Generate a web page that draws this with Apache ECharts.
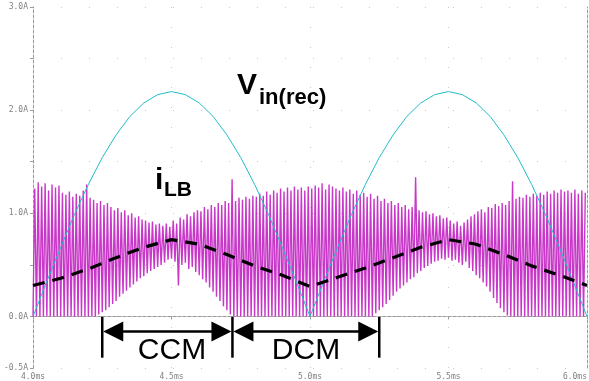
<!DOCTYPE html>
<html>
<head>
<meta charset="utf-8">
<script src="https://cdn.jsdelivr.net/npm/echarts@6/dist/echarts.min.js"></script>
<style>
  html, body { margin: 0; padding: 0; background: #fff; }
  #chart { width: 589px; height: 381px; }
</style>
</head>
<body>
<div id="chart"></div>
<script>
// time axis in ms
const tStart = 4.0
const xTicks = [4.0, 4.5, 5.0, 5.5, 6.0]
const yTicks = [-0.5, 0.0, 1.0, 2.0, 3.0]

// rectified input voltage (scaled), every 0.05 ms
const vinStep = 0.05
const vinRec = [
  0, 0.34, 0.67, 0.99, 1.28, 1.54, 1.76, 1.94, 2.07, 2.15, 2.18,
  2.15, 2.07, 1.94, 1.76, 1.54, 1.28, 0.99, 0.67, 0.34, 0,
  0.34, 0.67, 0.99, 1.28, 1.54, 1.76, 1.94, 2.07, 2.15, 2.18,
  2.15, 2.07, 1.94, 1.76, 1.54, 1.28, 0.99, 0.67, 0.34, 0
]

// average inductor current (dashed), every 0.1 ms
const avgStep = 0.1
const iLBAvg = [
  0.30, 0.37, 0.46, 0.57, 0.67, 0.745, 0.70, 0.60, 0.49, 0.40, 0.29,
  0.38, 0.47, 0.57, 0.67, 0.745, 0.70, 0.60, 0.49, 0.40, 0.30
]

// switching ripple of iLB: valley and peak of each cycle
const swStep = 0.0125
const iLBHigh = [
  1.24, 1.30, 1.26, 1.29, 1.22, 1.28, 1.25, 1.27,
  1.20, 1.18, 1.21, 1.16, 1.19, 1.17, 1.22, 1.28,
  1.15, 1.13, 1.10, 1.12, 1.08, 1.10, 1.06, 1.03,
  1.05, 1.01, 1.03, 0.98, 1.00, 0.96, 0.97, 0.94,
  0.93, 0.91, 0.92, 0.89, 0.90, 0.88, 0.90, 0.87,
  0.93, 0.90, 0.96, 0.94, 0.99, 0.97, 1.01, 1.03,
  1.02, 1.06, 1.04, 1.08, 1.06, 1.10, 1.08, 1.12,
  1.10, 1.33, 1.12, 1.15, 1.13, 1.16, 1.14, 1.17,
  1.16, 1.19, 1.17, 1.21, 1.18, 1.22, 1.20, 1.24,
  1.21, 1.25, 1.22, 1.26, 1.23, 1.25, 1.22, 1.26,
  1.24, 1.27, 1.25, 1.29, 1.23, 1.28, 1.26, 1.24,
  1.22, 1.25, 1.21, 1.23, 1.19, 1.22, 1.18, 1.20,
  1.16, 1.19, 1.14, 1.17, 1.12, 1.14, 1.10, 1.12,
  1.08, 1.10, 1.06, 1.08, 1.04, 1.06, 1.35, 1.03,
  1.01, 1.02, 0.99, 1.00, 0.97, 0.98, 0.95, 0.96,
  0.93, 0.90, 0.92, 0.88, 0.91, 0.94, 0.97, 0.99,
  1.02, 1.04, 1.01, 1.06, 1.05, 1.09, 1.07, 1.10,
  1.08, 1.12, 1.31, 1.14, 1.16, 1.15, 1.18, 1.16,
  1.19, 1.17, 1.20, 1.18, 1.21, 1.19, 1.22, 1.20,
  1.23, 1.21, 1.22, 1.20, 1.23, 1.19, 1.22, 1.20
]
const iLBLow = [
  0, 0, 0, 0, 0, 0, 0, 0,
  0, 0, 0, 0, 0, 0, 0, 0,
  0, 0, 0, 0.02, 0.04, 0.06, 0.09, 0.12,
  0.15, 0.19, 0.22, 0.25, 0.28, 0.31, 0.34, 0.37,
  0.39, 0.42, 0.44, 0.46, 0.48, 0.50, 0.52, 0.55,
  0.56, 0.53, 0.30, 0.50, 0.52, 0.46, 0.48, 0.43,
  0.40, 0.36, 0.33, 0.28, 0.24, 0.19, 0.15, 0.10,
  0.06, 0.02, 0, 0, 0, 0, 0, 0,
  0, 0, 0, 0, 0, 0, 0, 0,
  0, 0, 0, 0, 0, 0, 0, 0,
  0, 0, 0, 0, 0, 0, 0, 0,
  0, 0, 0, 0, 0, 0, 0, 0,
  0, 0, 0, 0.03, 0.06, 0.09, 0.12, 0.16,
  0.20, 0.24, 0.27, 0.30, 0.33, 0.36, 0.38, 0.42,
  0.44, 0.47, 0.49, 0.51, 0.53, 0.54, 0.56, 0.55,
  0.57, 0.54, 0.55, 0.52, 0.50, 0.53, 0.47, 0.44,
  0.40, 0.37, 0.33, 0.29, 0.24, 0.18, 0.13, 0.08,
  0.04, 0.01, 0, 0, 0, 0, 0, 0,
  0, 0, 0, 0, 0, 0, 0, 0,
  0, 0, 0, 0, 0, 0, 0, 0
]

// CCM / DCM markers (data units)
const ccmRange = [4.25, 4.72]
const dcmRange = [4.72, 5.25]
const arrowLevel = -0.145
const barSpan = [0, -0.40]

const vinData = vinRec.map((v, i) => [tStart + i * vinStep, v])
const avgData = iLBAvg.map((v, i) => [tStart + i * avgStep, v])
const rippleData = []
iLBHigh.forEach((h, i) => {
  rippleData.push([tStart + i * swStep, iLBLow[i]])
  rippleData.push([tStart + (i + 0.5) * swStep, h])
})

const chart = echarts.init(document.getElementById('chart'))
const gray = '#9a9a9a'
const labelFont = { color: '#808080', fontSize: 8, fontFamily: 'DejaVu Sans Mono' }

chart.setOption({
  animation: false,
  grid: { left: 33, right: 2, top: 7, bottom: 13, containLabel: false, outerBoundsMode: 'none' },
  xAxis: [
    {
      type: 'value',
      min: 4.0,
      max: 6.0,
      interval: 0.5,
      axisLine: { lineStyle: { color: gray, type: [3, 2] } },
      axisTick: { length: 3, lineStyle: { color: gray } },
      axisLabel: Object.assign({
        margin: 5,
        alignMaxLabel: 'right',
        formatter: v => xTicks.indexOf(+v.toFixed(1)) >= 0 ? v.toFixed(1) + 'ms' : ''
      }, labelFont),
      splitLine: { show: true, lineStyle: { color: '#c8c8c8', type: [1, 19] } }
    },
    {
      type: 'value', position: 'top', min: 4.0, max: 6.0,
      axisLine: { show: true, lineStyle: { color: gray, type: [3, 2] } },
      axisTick: { show: false }, axisLabel: { show: false }, splitLine: { show: false }
    }
  ],
  yAxis: [
    {
      type: 'value',
      min: -0.5,
      max: 3.0,
      interval: 0.5,
      axisLine: { show: true, lineStyle: { color: gray, type: [3, 2] } },
      axisTick: { show: true, length: 3, lineStyle: { color: gray } },
      axisLabel: Object.assign({
        margin: 5,
        formatter: v => yTicks.indexOf(+v.toFixed(1)) >= 0 ? v.toFixed(1) + 'A' : ''
      }, labelFont),
      splitLine: { show: true, lineStyle: { color: '#c8c8c8', type: [1, 27] } }
    },
    {
      type: 'value', position: 'right', min: -0.5, max: 3.0,
      axisLine: { show: true, lineStyle: { color: gray, type: [3, 2] } },
      axisTick: { show: false }, axisLabel: { show: false }, splitLine: { show: false }
    }
  ],
  series: [
    {
      name: 'iLB',
      type: 'line',
      data: rippleData,
      showSymbol: false,
      lineStyle: { color: '#c838c8', width: 1.4 },
      z: 2
    },
    {
      name: 'Vin(rec)',
      type: 'line',
      data: vinData,
      showSymbol: false,
      lineStyle: { color: '#22bcc8', width: 1 },
      z: 3
    },
    {
      name: 'iLB avg',
      type: 'line',
      data: avgData,
      showSymbol: false,
      lineStyle: { color: '#000', width: 3.2, type: [12, 8] },
      z: 4
    }
  ]
})

// annotations placed through the chart's own scales
function px(x, y) { return chart.convertToPixel({ gridIndex: 0 }, [x, y]) }

const graphics = []
const black = { fill: '#000' }
function doubleArrow(range) {
  const a = px(range[0], arrowLevel)
  const b = px(range[1], arrowLevel)
  const y = a[1]
  graphics.push({ type: 'line', shape: { x1: a[0] + 15, y1: y, x2: b[0] - 15, y2: y }, style: { stroke: '#000', lineWidth: 2.5 } })
  graphics.push({ type: 'polygon', shape: { points: [[a[0] + 1, y], [a[0] + 21, y - 10], [a[0] + 21, y + 10]] }, style: black })
  graphics.push({ type: 'polygon', shape: { points: [[b[0] - 1, y], [b[0] - 21, y - 10], [b[0] - 21, y + 10]] }, style: black })
}
function bar(x) {
  const top = px(x, barSpan[0])
  const bot = px(x, barSpan[1])
  graphics.push({ type: 'line', shape: { x1: top[0], y1: top[1], x2: bot[0], y2: bot[1] }, style: { stroke: '#000', lineWidth: 2.5 } })
}
doubleArrow(ccmRange)
doubleArrow(dcmRange)
bar(ccmRange[0]); bar(ccmRange[1]); bar(dcmRange[1])

const font = 'Liberation Sans, Arial, sans-serif'
function label(text, x, y, size, bold, align) {
  const p = px(x, y)
  graphics.push({
    type: 'text', x: p[0], y: p[1], z: 10,
    style: {
      text: text, fill: '#000', fontSize: size, fontFamily: font,
      fontWeight: bold ? 'bold' : 'normal',
      textAlign: align || 'left', textVerticalAlign: 'top'
    }
  })
}
label('V', 4.7365, 2.380, 30, true)
label('in(rec)', 4.8159, 2.225, 22, true)
label('i', 4.4404, 1.462, 30, true)
label('LB', 4.4729, 1.322, 21, true)
label('CCM', 4.5018, -0.19, 30, false, 'center')
label('DCM', 4.9856, -0.19, 30, false, 'center')

chart.setOption({ graphic: graphics })
</script>
</body>
</html>
